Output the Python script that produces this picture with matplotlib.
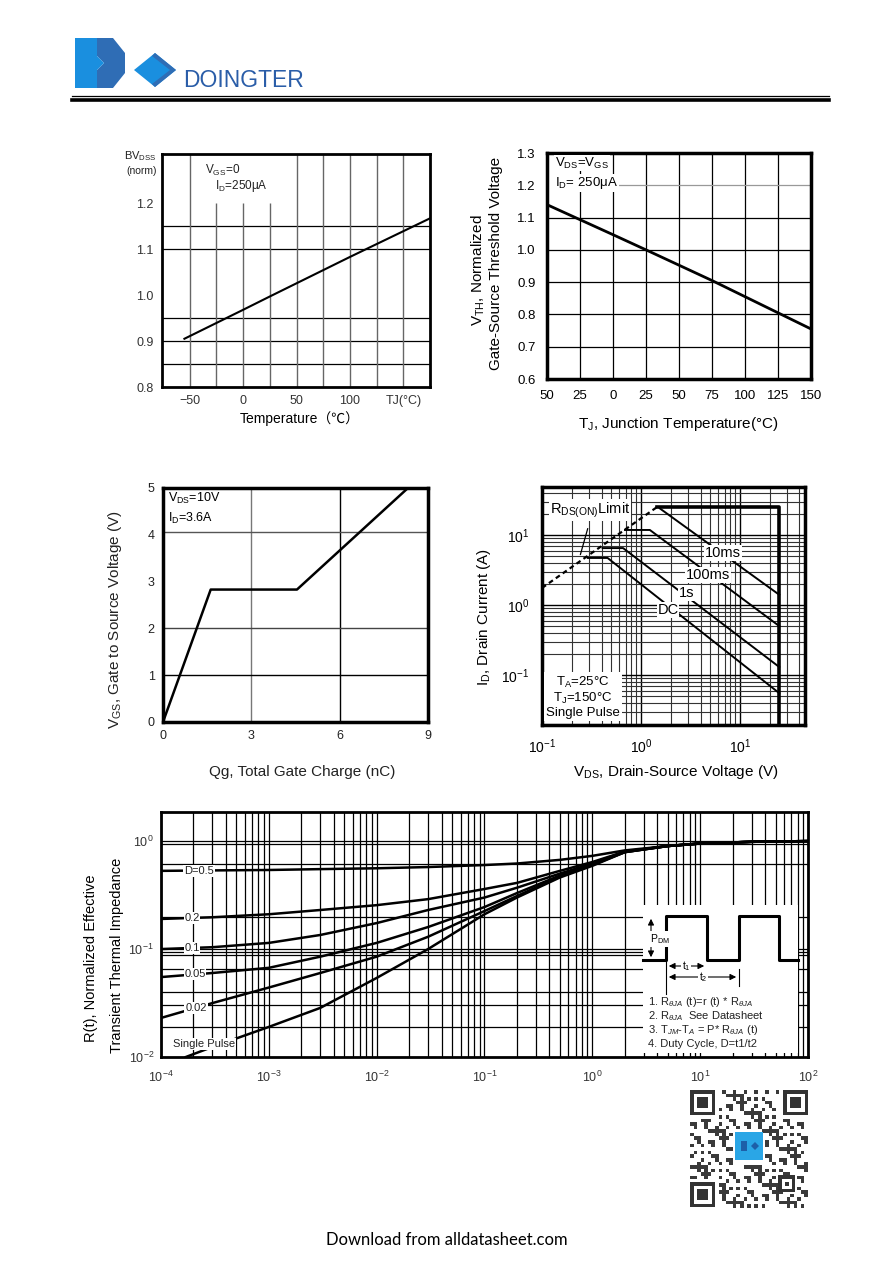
import matplotlib
matplotlib.use('Agg')
import matplotlib.pyplot as plt
import matplotlib.patches as patches
from matplotlib.ticker import LogLocator, NullFormatter

bv_temp = [-55, 0, 25, 100, 175]
bv_norm = [0.905, 0.968, 0.997, 1.083, 1.167]

vth_temp = [-50, 0, 25, 75, 125, 150]
vth_norm = [1.14, 1.047, 1.0, 0.905, 0.805, 0.755]
vth_ticks = [-50, -25, 0, 25, 50, 75, 100, 125, 150]
vth_ticklabels = ['50', '25', '0', '25', '50', '75', '100', '125', '150']

qg = [0, 1.62, 4.55, 8.32]
vgs = [0, 2.83, 2.83, 5.0]

soa_rds_v = [0.1, 1.45]
soa_rds_i = [1.75, 25.0]
soa_lim_v = [1.45, 25.0, 25.0]
soa_lim_i = [25.0, 25.0, 0.0193]
soa_10ms_v = [1.55, 25.0]
soa_10ms_i = [24.0, 1.4]
soa_100ms_v = [0.69, 1.23, 25.0]
soa_100ms_i = [11.8, 11.8, 0.5]
soa_1s_v = [0.41, 0.66, 25.0]
soa_1s_i = [6.5, 6.5, 0.13]
soa_dc_v = [0.29, 0.46, 25.0]
soa_dc_i = [4.7, 4.7, 0.055]

th_t = [1e-4, 3e-4, 1e-3, 3e-3, 1e-2, 3e-2, 1e-1, 2e-1, 5e-1, 1, 2, 5, 10, 30, 100]
th_d05 = [0.53, 0.535, 0.54, 0.55, 0.56, 0.575, 0.60, 0.62, 0.67, 0.73, 0.82, 0.90, 0.95, 0.985, 1.0]
th_d02 = [0.19, 0.197, 0.21, 0.23, 0.255, 0.29, 0.36, 0.41, 0.53, 0.64, 0.80, 0.90, 0.95, 0.985, 1.0]
th_d01 = [0.10, 0.104, 0.114, 0.135, 0.174, 0.23, 0.30, 0.37, 0.50, 0.62, 0.80, 0.90, 0.95, 0.985, 1.0]
th_d005 = [0.055, 0.06, 0.067, 0.085, 0.114, 0.16, 0.245, 0.33, 0.48, 0.61, 0.79, 0.90, 0.95, 0.985, 1.0]
th_d002 = [0.023, 0.0316, 0.044, 0.06, 0.085, 0.13, 0.225, 0.31, 0.47, 0.60, 0.79, 0.90, 0.95, 0.985, 1.0]
th_sp_t = [1.7e-4, 3e-4, 1e-3, 3e-3, 1e-2, 3e-2, 1e-1, 2e-1, 5e-1, 1, 2, 5, 10, 30, 100]
th_sp = [0.01, 0.0124, 0.019, 0.0285, 0.054, 0.10, 0.21, 0.30, 0.46, 0.59, 0.79, 0.90, 0.95, 0.985, 1.0]
th_hgrid = [1.0, 0.93, 0.62, 0.2, 0.1, 0.094, 0.088, 0.065, 0.04, 0.03, 0.019]

notes = ['1. R$_{\\theta JA}$ (t)=r (t) * R$_{\\theta JA}$',
         '2. R$_{\\theta JA}$  See Datasheet',
         '3. T$_{JM}$-T$_{A}$ = P* R$_{\\theta JA}$ (t)',
         '4. Duty Cycle, D=t1/t2']

# ---- page setup ----
W, H = 892, 1261
plt.rcParams['font.family'] = ['Liberation Sans', 'Noto Sans CJK SC', 'DejaVu Sans']
plt.rcParams['mathtext.fontset'] = 'custom'
plt.rcParams['mathtext.rm'] = 'Liberation Sans'
plt.rcParams['mathtext.it'] = 'Liberation Sans:italic'
plt.rcParams['mathtext.sf'] = 'Liberation Sans'

fig = plt.figure(figsize=(W / 100, H / 100), dpi=100)
fig.patch.set_facecolor('white')


def px_axes(x0, y0, x1, y1):
    return fig.add_axes([x0 / W, 1 - y1 / H, (x1 - x0) / W, (y1 - y0) / H])


def ftext(x, y, s, **kw):
    fig.text(x / W, 1 - y / H, s, **kw)


def atext(ax, box, x, y, s, **kw):
    # place text using page pixel coordinates inside an axes box
    x0, y0, x1, y1 = box
    ax.text((x - x0) / (x1 - x0), (y1 - y) / (y1 - y0), s, transform=ax.transAxes, **kw)


def frame(ax, lw):
    for sp in ax.spines.values():
        sp.set_linewidth(lw)
        sp.set_color('black')
    ax.tick_params(which='both', length=0)


white_box = dict(facecolor='white', edgecolor='none', pad=0.6)

# ---- chart 1 : BVdss vs temperature ----
b1 = (162, 154, 430, 387)
ax1 = px_axes(*b1)
ax1.set_xlim(-76, 175)
ax1.set_ylim(0.8, 1.307)
ax1.hlines([0.85, 0.9, 0.95, 1.1, 1.15], -76, 175, color='black', lw=0.9)
ax1.vlines([-50, 50, 75, 100, 125, 150], 0.8, 1.307, color='#666', lw=1.0)
ax1.vlines([-25, 0, 25], 0.8, 1.2, color='#666', lw=1.0)
ax1.plot(bv_temp, bv_norm, color='black', lw=1.5)
frame(ax1, 2.0)
ax1.set_xticks([-50, 0, 50, 100, 150], ['\u221250', '0', '50', '100', 'TJ(\u00b0C)'])
ax1.set_yticks([0.8, 0.9, 1.0, 1.1, 1.2], ['0.8', '0.9', '1.0', '1.1', '1.2'])
ax1.tick_params(labelsize=9, colors='#333', pad=6)
atext(ax1, b1, 205, 170, 'V$_{\\rm GS}$=0', fontsize=8.5, color='#222', va='center')
atext(ax1, b1, 215, 186, 'I$_{\\rm D}$=250\u03bcA', fontsize=8.5, color='#222', va='center')
ftext(157, 156, 'BV$_{\\rm DSS}$', fontsize=8, ha='right', va='center', color='#222')
ftext(157, 171, '(norm)', fontsize=7.5, ha='right', va='center', color='#222')
ftext(300, 419, 'Temperature\uff08\u2103\uff09', fontsize=10, ha='center', va='center')

# ---- chart 2 : threshold voltage vs temperature ----
b2 = (547, 153, 811, 379)
ax2 = px_axes(*b2)
ax2.set_xlim(-50, 150)
ax2.set_ylim(0.6, 1.3)
ax2.vlines(vth_ticks[1:-1], 0.6, 1.3, color='black', lw=0.9)
ax2.hlines([0.7, 0.8, 0.9, 1.0, 1.1], -50, 150, color='black', lw=0.9)
ax2.hlines(1.2, -2, 150, color='#999', lw=0.9)
ax2.plot(vth_temp, vth_norm, color='black', lw=2.0)
frame(ax2, 2.5)
ax2.set_xticks(vth_ticks, vth_ticklabels)
ax2.set_yticks([0.6, 0.7, 0.8, 0.9, 1.0, 1.1, 1.2, 1.3])
ax2.tick_params(labelsize=9.5, pad=8)
atext(ax2, b2, 555, 163, 'V$_{\\rm DS}$=V$_{\\rm GS}$', fontsize=9.5, va='center', bbox=white_box)
atext(ax2, b2, 555, 183, 'I$_{\\rm D}$= 250\u03bcA', fontsize=9.5, va='center', bbox=white_box)
ftext(478, 270, 'V$_{\\rm TH}$, Normalized', fontsize=11, rotation=90, ha='center', va='center')
ftext(496, 263, 'Gate-Source Threshold Voltage', fontsize=11, rotation=90, ha='center', va='center')
ftext(678, 424, 'T$_{\\rm J}$, Junction Temperature(\u00b0C)', fontsize=11, ha='center', va='center')

# ---- chart 3 : gate charge ----
b3 = (163, 488, 428, 722)
ax3 = px_axes(*b3)
ax3.set_xlim(0, 9)
ax3.set_ylim(0, 5)
ax3.vlines([3, 6], 0, 5, color=['#777', 'black'], lw=1.0)
ax3.hlines([1, 2, 4.07], 0, 9, color=['black', '#444', '#555'], lw=1.0)
ax3.plot(qg, vgs, color='black', lw=1.8)
frame(ax3, 2.5)
ax3.set_xticks([0, 3, 6, 9])
ax3.set_yticks([0, 1, 2, 3, 4, 5])
ax3.tick_params(labelsize=9, colors='#222', pad=6)
atext(ax3, b3, 168, 498, 'V$_{\\rm DS}$=10V', fontsize=9, va='center')
atext(ax3, b3, 168, 518, 'I$_{\\rm D}$=3.6A', fontsize=9, va='center')
ftext(115, 620, 'V$_{\\rm GS}$, Gate to Source Voltage (V)', fontsize=11, rotation=90,
      ha='center', va='center', color='#222')
ftext(302, 772, 'Qg, Total Gate Charge (nC)', fontsize=11, ha='center', va='center', color='#222')

# ---- chart 4 : safe operating area ----
b4 = (542, 487, 805, 725)
ax4 = px_axes(*b4)
ax4.set_xscale('log')
ax4.set_yscale('log')
ax4.set_xlim(0.1, 45.5)
ax4.set_ylim(0.0193, 48.5)
for axis in (ax4.xaxis, ax4.yaxis):
    axis.set_minor_locator(LogLocator(base=10, subs=range(2, 10)))
    axis.set_minor_formatter(NullFormatter())
ax4.grid(True, which='major', color='black', lw=1.0)
ax4.grid(True, which='minor', color='#333', lw=0.8)
ax4.set_axisbelow(True)
ax4.plot(soa_rds_v, soa_rds_i, color='black', lw=1.6, ls=(0, (2.2, 1.6)))
ax4.plot(soa_lim_v, soa_lim_i, color='black', lw=2.6)
ax4.plot(soa_10ms_v, soa_10ms_i, color='black', lw=1.4)
ax4.plot(soa_100ms_v, soa_100ms_i, color='black', lw=1.4)
ax4.plot(soa_1s_v, soa_1s_i, color='black', lw=1.4)
ax4.plot(soa_dc_v, soa_dc_i, color='black', lw=1.4)
frame(ax4, 2.5)
ax4.set_xticks([0.1, 1, 10], ['10$^{-1}$', '10$^{0}$', '10$^{1}$'])
ax4.set_yticks([0.1, 1, 10], ['10$^{-1}$', '10$^{0}$', '10$^{1}$'])
ax4.tick_params(labelsize=10, pad=9)
atext(ax4, b4, 590, 510, 'R$_{\\rm DS(ON)}$Limit', fontsize=10.5, ha='center', va='center', bbox=white_box)
ax4.annotate('', xy=(0.24, 4.8), xytext=(0.295, 13.5),
             arrowprops=dict(arrowstyle='-', color='black', lw=0.9))
atext(ax4, b4, 723, 553, '10ms', fontsize=10.5, ha='center', va='center', bbox=white_box)
atext(ax4, b4, 708, 575, '100ms', fontsize=10.5, ha='center', va='center', bbox=white_box)
atext(ax4, b4, 687, 593, '1s', fontsize=10.5, ha='center', va='center', bbox=white_box)
atext(ax4, b4, 668, 610, 'DC', fontsize=10.5, ha='center', va='center', bbox=white_box)
atext(ax4, b4, 583, 697, 'T$_{\\rm A}$=25\u00b0C\nT$_{\\rm J}$=150\u00b0C\nSingle Pulse', fontsize=9.5,
      ha='center', va='center', linespacing=1.05, bbox=dict(facecolor='white', edgecolor='none', pad=1.5))
ftext(484, 617, 'I$_{\\rm D}$, Drain Current (A)', fontsize=11, rotation=90, ha='center', va='center')
ftext(676, 772, 'V$_{\\rm DS}$, Drain-Source Voltage (V)', fontsize=11, ha='center', va='center')

# ---- chart 5 : transient thermal impedance ----
b5 = (161, 812, 808, 1057)
ax5 = px_axes(*b5)
ax5.set_xscale('log')
ax5.set_yscale('log')
ax5.set_xlim(1e-4, 1e2)
ax5.set_ylim(0.01, 1.86)
ax5.xaxis.set_minor_locator(LogLocator(base=10, subs=range(2, 10)))
ax5.xaxis.set_minor_formatter(NullFormatter())
ax5.yaxis.set_minor_locator(LogLocator(base=10, subs=[]))
ax5.yaxis.set_minor_formatter(NullFormatter())
ax5.grid(True, axis='x', which='both', color='black', lw=0.9)
ax5.hlines(th_hgrid, 1e-4, 1e2, color='black', lw=0.9)
for series in (th_d05, th_d02, th_d01, th_d005, th_d002):
    ax5.plot(th_t, series, color='black', lw=1.8)
ax5.plot(th_sp_t, th_sp, color='black', lw=1.8)
frame(ax5, 2.0)
ax5.set_xticks([1e-4, 1e-3, 1e-2, 1e-1, 1, 10, 100],
               ['10$^{-4}$', '10$^{-3}$', '10$^{-2}$', '10$^{-1}$', '10$^{0}$', '10$^{1}$', '10$^{2}$'])
ax5.set_yticks([0.01, 0.1, 1], ['10$^{-2}$', '10$^{-1}$', '10$^{0}$'])
ax5.tick_params(labelsize=9, colors='#333', pad=9)
ax5.tick_params(axis='y', pad=5)
for lx, ly, s in [(199, 871, 'D=0.5'), (192, 918, '0.2'), (192, 948, '0.1'),
                  (195, 974, '0.05'), (196, 1008, '0.02'), (204, 1044, 'Single Pulse')]:
    atext(ax5, b5, lx, ly, s, fontsize=8, color='#222', ha='center', va='center', bbox=white_box)
ftext(91, 958, 'R(t), Normalized Effective', fontsize=10.5, rotation=90, ha='center', va='center')
ftext(117, 955, 'Transient Thermal Impedance', fontsize=10.5, rotation=90, ha='center', va='center')

# ---- page overlay: header, inset diagram, QR, footer ----
ov = fig.add_axes([0, 0, 1, 1], zorder=10)
ov.set_xlim(0, W)
ov.set_ylim(H, 0)
ov.axis('off')

light, dark = '#1a8fdf', '#2f6db5'
ov.add_patch(patches.Rectangle((75, 38), 22, 50, color=light, lw=0))
ov.add_patch(patches.Polygon([(97, 38), (113, 38), (125, 53), (125, 73), (113, 88), (97, 88),
                              (97, 70), (104, 63), (97, 56)], closed=True, color=dark, lw=0))
ov.add_patch(patches.Polygon([(97, 56), (104, 63), (97, 70)], closed=True, color=light, lw=0))
ov.add_patch(patches.Polygon([(155, 53), (176, 70), (155, 87), (134, 70)], closed=True, color=light, lw=0))
ov.add_patch(patches.Polygon([(155, 53), (176, 70), (155, 87), (152, 84), (170, 70), (152, 56)],
                             closed=True, color=dark, lw=0))
ov.text(183, 87, 'DOINGTER', fontsize=16.5, color='#2a5da8', ha='left', va='baseline')
ov.plot([72, 829], [96, 96], color='black', lw=0.9)
ov.plot([72, 829], [100, 100], color='black', lw=2.6)

# inset: pulse diagram and notes
ov.add_patch(patches.Rectangle((643, 905), 155, 148, facecolor='white', edgecolor='none'))
ov.plot([643, 666, 666, 707, 707, 739, 739, 779, 779, 798],
        [960, 960, 916, 916, 960, 960, 916, 916, 960, 960], color='black', lw=2.2)
ov.annotate('', xy=(651, 916), xytext=(651, 960),
            arrowprops=dict(arrowstyle='<|-|>', color='black', lw=0.8, mutation_scale=9))
ov.text(650, 939, 'P$_{\\rm DM}$', fontsize=7.5, ha='left', va='center', bbox=white_box)
ov.plot([666, 666], [962, 994], color='black', lw=0.8)
ov.plot([739, 739], [969, 986], color='black', lw=0.8)
ov.annotate('', xy=(666, 966), xytext=(707, 966),
            arrowprops=dict(arrowstyle='<|-|>', color='black', lw=0.8, mutation_scale=9))
ov.text(686, 966, 't$_1$', fontsize=7.5, ha='center', va='center', bbox=white_box)
ov.annotate('', xy=(666, 977), xytext=(739, 977),
            arrowprops=dict(arrowstyle='<|-|>', color='black', lw=0.8, mutation_scale=9))
ov.text(703, 977, 't$_2$', fontsize=7.5, ha='center', va='center', bbox=white_box)
for k, line in enumerate(notes):
    ov.text(648, 1002 + 14 * k, line, fontsize=8, color='#222', ha='left', va='center')

# QR code block (decorative)
q0x, q0y, n = 690, 1090, 33
m = 118 / n
for i in range(n):
    for j in range(n):
        if (i < 8 and j < 8) or (i < 8 and j > 24) or (i > 24 and j < 8):
            continue
        if 12 <= i <= 20 and 12 <= j <= 20:
            continue
        if (i * 7 + j * 11 + (i * j) % 5) % 3 == 0:
            ov.add_patch(patches.Rectangle((q0x + j * m, q0y + i * m), m, m, color='#3a3a3a', lw=0))
for fx, fy in [(690, 1090), (783, 1090), (690, 1182)]:
    ov.add_patch(patches.Rectangle((fx, fy), 25, 25, color='#333', lw=0))
    ov.add_patch(patches.Rectangle((fx + 3.5, fy + 3.5), 18, 18, color='white', lw=0))
    ov.add_patch(patches.Rectangle((fx + 7, fy + 7), 11, 11, color='#333', lw=0))
ov.add_patch(patches.Rectangle((778, 1175), 17, 17, color='#333', lw=0))
ov.add_patch(patches.Rectangle((781.5, 1178.5), 10, 10, color='white', lw=0))
ov.add_patch(patches.Rectangle((784.5, 1181.5), 4, 4, color='#333', lw=0))
ov.add_patch(patches.Rectangle((735, 1132), 28, 28, color='#2aa6e6', lw=0))
ov.add_patch(patches.Rectangle((741, 1141), 6, 10, color='#1d5fa8', lw=0))
ov.add_patch(patches.Polygon([(751, 1146), (755, 1142), (759, 1146), (755, 1150)], closed=True,
                             color='#1d5fa8', lw=0))

ov.text(447, 1240, 'Download from alldatasheet.com', fontsize=12, ha='center', va='center',
        family=['Lato', 'DejaVu Sans'])

fig.savefig('out.png', dpi=100, facecolor='white')
